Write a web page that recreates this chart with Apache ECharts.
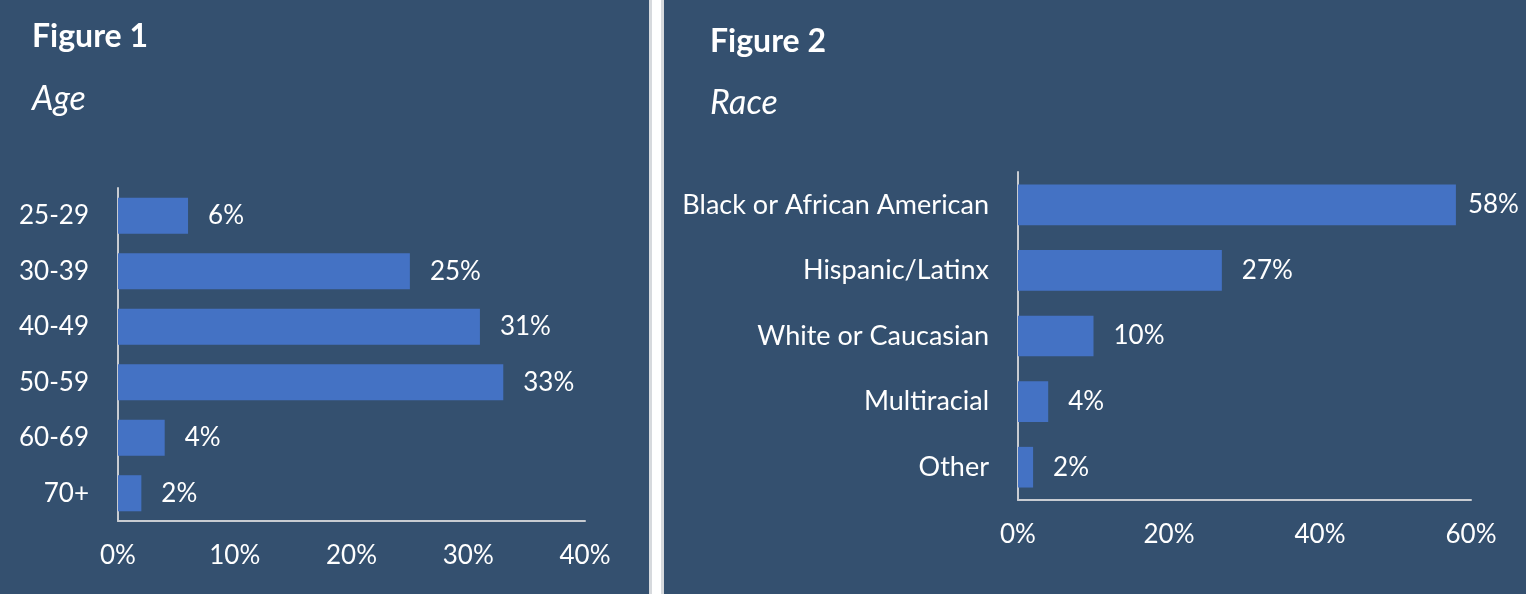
<!DOCTYPE html>
<html>
<head>
<meta charset="utf-8">
<script src="https://cdn.jsdelivr.net/npm/echarts@6/dist/echarts.min.js"></script>
<style>
  html, body { margin: 0; padding: 0; background: #ffffff; }
  #chart { width: 1526px; height: 594px; }
</style>
</head>
<body>
<div id="chart"></div>
<script>
// 数据
const ageCategories = ['25-29', '30-39', '40-49', '50-59', '60-69', '70+'];
const ageValues = [6, 25, 31, 33, 4, 2];
const ageTicks = [0, 10, 20, 30, 40];

const raceCategories = ['Black or African American', 'Hispanic/Latinx', 'White or Caucasian', 'Multiracial', 'Other'];
const raceValues = [58, 27, 10, 4, 2];
const raceTicks = [0, 20, 40, 60];

const FONT = 'Lato, "Noto Sans", sans-serif';
const BG = '#34506f';
const BAR = '#4472c4';
const AXIS = '#c8ccd2';

function valueAxis(gridIndex, ticks) {
    return {
        type: 'value',
        gridIndex: gridIndex,
        min: ticks[0],
        max: ticks[ticks.length - 1],
        interval: ticks[1] - ticks[0],
        axisLine: { show: true, lineStyle: { color: AXIS, width: 2 } },
        axisTick: { show: false },
        splitLine: { show: false },
        axisLabel: { color: '#fff', fontFamily: FONT, fontSize: 26, margin: 22, formatter: '{value}%' }
    };
}

function categoryAxis(gridIndex, cats, size) {
    return {
        type: 'category',
        gridIndex: gridIndex,
        data: cats,
        inverse: true,
        axisLine: { show: true, lineStyle: { color: AXIS, width: 2 } },
        axisTick: { show: false },
        axisLabel: { color: '#fff', fontFamily: FONT, fontSize: size, margin: 29 }
    };
}

function barSeries(idx, values, gap, firstDistance) {
    return {
        type: 'bar',
        xAxisIndex: idx,
        yAxisIndex: idx,
        barCategoryGap: gap,
        itemStyle: { color: BAR },
        label: {
            show: true,
            position: 'right',
            distance: 20,
            color: '#fff',
            fontFamily: FONT,
            fontSize: 26,
            formatter: '{c}%'
        },
        data: values.map((v, i) => (i === 0 && firstDistance != null)
            ? { value: v, label: { distance: firstDistance } }
            : v)
    };
}

function initChart() {
    const chart = echarts.init(document.getElementById('chart'));
    chart.setOption({
        backgroundColor: BG,
        animation: false,
        title: [
            { text: 'Figure 1', left: 27, top: 16, textStyle: { color: '#fff', fontFamily: FONT, fontSize: 32, fontWeight: 'bold' } },
            { text: 'Age', left: 27, top: 77, textStyle: { color: '#fff', fontFamily: FONT, fontSize: 34, fontStyle: 'italic', fontWeight: 'normal' } },
            { text: 'Figure 2', left: 705, top: 21, textStyle: { color: '#fff', fontFamily: FONT, fontSize: 32, fontWeight: 'bold' } },
            { text: 'Race', left: 705, top: 81, textStyle: { color: '#fff', fontFamily: FONT, fontSize: 34, fontStyle: 'italic', fontWeight: 'normal' } }
        ],
        // 中间分隔条
        graphic: [
            { type: 'rect', shape: { x: 649, y: 0, width: 15, height: 594 }, style: { fill: '#d6d9dd' } },
            { type: 'rect', shape: { x: 652, y: 0, width: 9, height: 594 }, style: { fill: '#ffffff' } }
        ],
        grid: [
            { left: 118, top: 188, width: 467, height: 333 },
            { left: 1018, top: 172, width: 453, height: 328 }
        ],
        xAxis: [valueAxis(0, ageTicks), valueAxis(1, raceTicks)],
        yAxis: [categoryAxis(0, ageCategories, 26), categoryAxis(1, raceCategories, 27)],
        series: [
            barSeries(0, ageValues, '35%'),
            barSeries(1, raceValues, '38%', 12)
        ]
    });
    window.addEventListener('resize', () => chart.resize());
}

document.addEventListener('DOMContentLoaded', initChart);
</script>
</body>
</html>
